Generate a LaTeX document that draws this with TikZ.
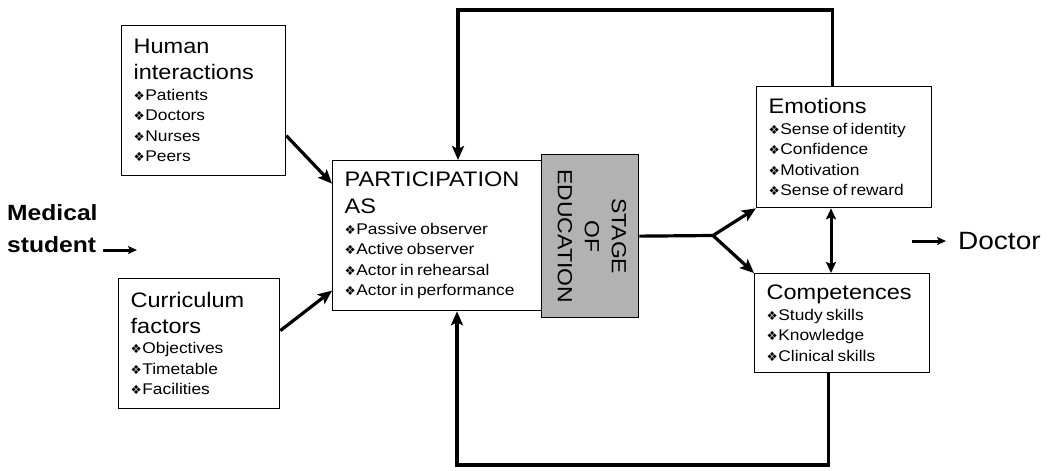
\documentclass[tikz,border=0pt]{standalone}
\usepackage{fontspec}
\usepackage{graphicx}
\setmainfont[FakeStretch=1.12]{Liberation Sans}
\newfontfamily\symfont{DejaVu Sans}
\usetikzlibrary{arrows.meta}

\newcommand{\bul}{{\symfont\fontsize{12.5}{12.5}\selectfont\char"2756}\kern0.5pt}
\newcommand{\hd}[1]{{\fontsize{21}{26}\selectfont #1\par}}
\newcommand{\itms}[1]{{\fontsize{15.5}{20.5}\selectfont #1\par}}

\tikzset{
  factor/.style={draw, line width=1.3pt, align=left, inner xsep=12pt, inner ysep=0pt,
    anchor=north west},
  stagebox/.style={draw, line width=1.3pt, fill=black!30, inner sep=0pt, anchor=north west,
    minimum width=97pt, minimum height=163pt},
  link/.style={line width=3.2pt, -{Stealth[length=14pt,width=12pt,inset=3pt]}},
  dlink/.style={line width=3pt, {Stealth[length=11pt,width=10pt,inset=2pt]}-{Stealth[length=11pt,width=10pt,inset=2pt]}},
  shortlink/.style={line width=3pt, -{Stealth[length=9pt,width=8pt,inset=2pt]}},
}

\begin{document}
\begin{tikzpicture}[x=1pt,y=-1pt]
  \useasboundingbox (0,0) rectangle (1053,471);

  % factor boxes
  \node[factor, text width=140pt, minimum height=150pt] (hum) at (121,25)
    {\hd{Human\\interactions}\itms{\bul Patients\\\bul Doctors\\\bul Nurses\\\bul Peers}};
  \node[factor, text width=137pt, minimum height=130pt] (cur) at (118,278)
    {\hd{Curriculum\\factors}\itms{\bul Objectives\\\bul Timetable\\\bul Facilities}};
  \node[factor, text width=185pt, minimum height=150pt] (part) at (332,160)
    {{\fontsize{21}{27}\selectfont PARTICIPATION\\AS\par}%
     \itms{\bul Passive observer\\\bul Active observer\\\bul Actor in rehearsal\\\bul Actor in performance}};
  \node[stagebox] (stage) at (541,154)
    {\rotatebox{-90}{\fontsize{20.5}{27}\selectfont
      \begin{tabular}{@{}c@{}}STAGE\\OF\\EDUCATION\end{tabular}}};
  \node[factor, text width=151pt, minimum height=121pt] (emo) at (756,86)
    {\hd{Emotions}\itms{\bul Sense of identity\\\bul Confidence\\\bul Motivation\\\bul Sense of reward}};
  \node[factor, text width=151pt, minimum height=99pt] (comp) at (754,273)
    {\hd{Competences}\itms{\bul Study skills\\\bul Knowledge\\\bul Clinical skills}};

  % start and end
  \node[align=left, anchor=west, inner sep=0pt, font=\bfseries\fontsize{22}{32}\selectfont]
    (med) at (7,229) {Medical\\student};
  \node[anchor=west, inner sep=0pt, font=\fontsize{25}{30}\selectfont] (doc) at (958,241) {Doctor};
  \coordinate (medend) at (137,250);
  \coordinate (docstart) at (912,241);
  \draw[shortlink] ([xshift=5pt]med.east |- medend) -- (medend);
  \draw[shortlink] (docstart) -- ([xshift=-12pt]doc.west);

  % connectors
  \draw[link] ([yshift=-35pt]hum.east) -- ([yshift=52pt]part.west);
  \draw[link] ([yshift=13pt]cur.east) -- ([yshift=-55pt]part.west);

  \coordinate (fork) at (713,235.5);
  \draw[line width=3.2pt] (stage.east) -- (fork);
  \draw[link] (fork) -- (emo.south west);
  \draw[link] (fork) -- (comp.north west);

  \coordinate (dbl) at (831,0);
  \draw[dlink] (emo.south -| dbl) -- (comp.north -| dbl);

  % feedback loops
  \coordinate (toploop) at (458,10);
  \coordinate (botloop) at (457,465);
  \draw[link] ([xshift=-11.5pt]emo.north) |- (toploop) -- (part.north -| toploop);
  \draw[link] ([xshift=-13.5pt]comp.south) |- (botloop) -- (part.south -| botloop);
\end{tikzpicture}
\end{document}
